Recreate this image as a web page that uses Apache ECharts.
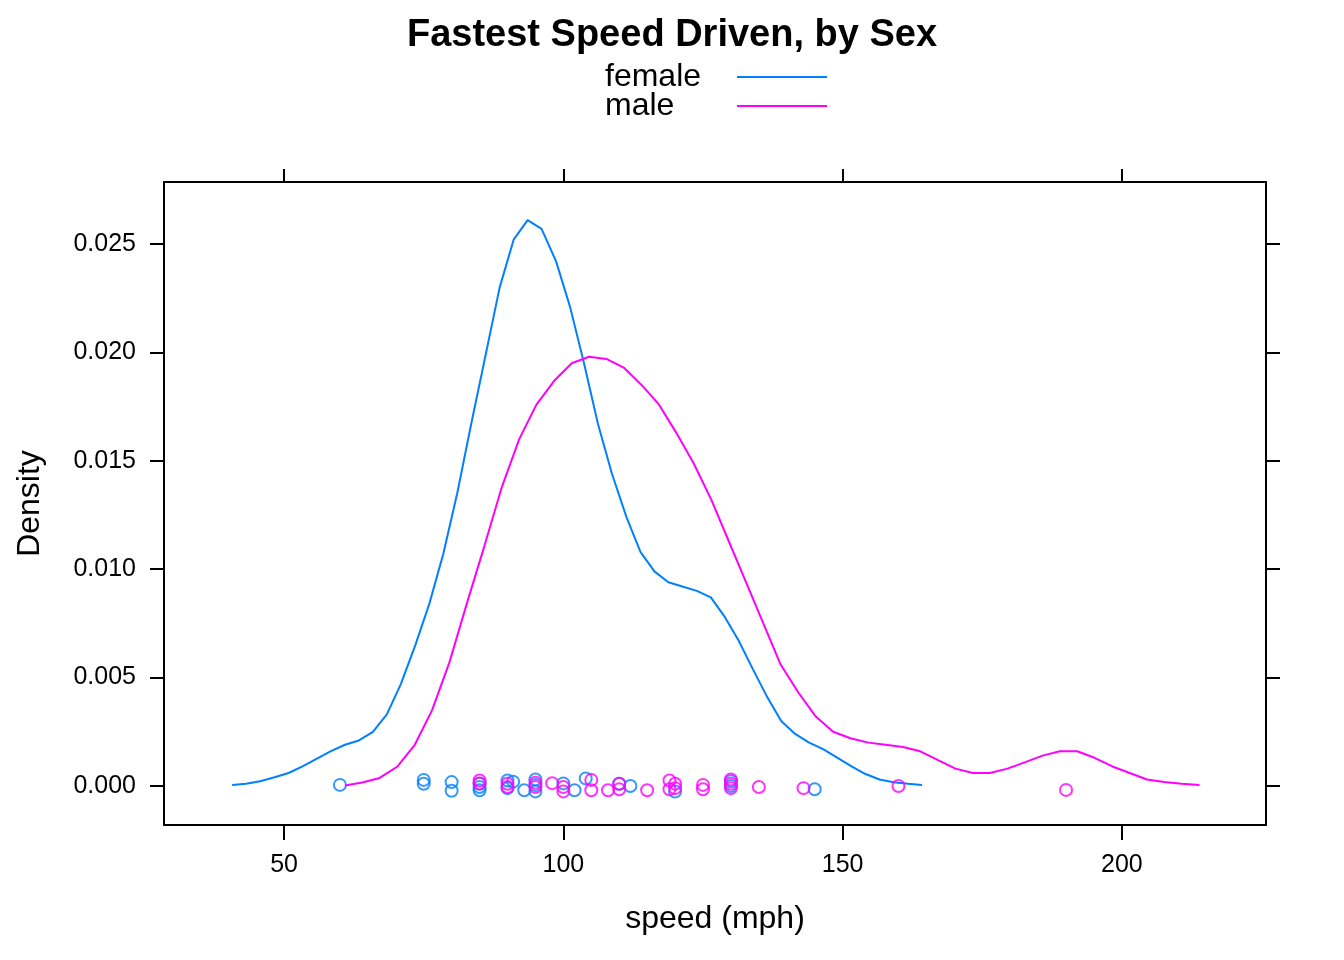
<!DOCTYPE html>
<html>
<head>
<meta charset="utf-8">
<script src="https://cdn.jsdelivr.net/npm/echarts@6/dist/echarts.min.js"></script>
<style>html,body{margin:0;padding:0;background:#fff}#c{width:1344px;height:960px}</style>
</head>
<body>
<div id="c"></div>
<script>
// ---- data ----
const femaleX = [40.7, 43.2, 45.7, 48.3, 50.8, 53.3, 55.8, 58.3, 60.9, 63.4, 65.9, 68.4, 70.9, 73.5, 76.0, 78.5, 81.0, 83.5, 86.1, 88.6, 91.1, 93.6, 96.1, 98.7, 101.2, 103.7, 106.2, 108.7, 111.3, 113.8, 116.3, 118.8, 121.3, 123.9, 126.4, 128.9, 131.4, 133.9, 136.5, 139.0, 141.5, 144.0, 146.5, 149.1, 151.6, 154.1, 156.6, 159.1, 161.7, 164.2];
const femaleY = [0.00005, 0.0001, 0.00022, 0.0004, 0.0006, 0.0009, 0.00125, 0.0016, 0.0019, 0.0021, 0.0025, 0.0033, 0.0047, 0.0065, 0.0084, 0.0107, 0.0135, 0.0167, 0.0199, 0.0230, 0.0252, 0.0261, 0.0257, 0.0242, 0.0221, 0.0195, 0.0167, 0.0144, 0.0124, 0.0108, 0.0099, 0.0094, 0.0092, 0.0090, 0.0087, 0.0078, 0.0067, 0.0054, 0.0041, 0.0030, 0.0024, 0.0020, 0.0017, 0.0013, 0.0009, 0.00055, 0.0003, 0.00017, 0.0001, 0.00005];
const maleX = [60.9, 64.0, 67.1, 70.3, 73.4, 76.5, 79.6, 82.7, 85.9, 89.0, 92.1, 95.2, 98.4, 101.5, 104.6, 107.7, 110.8, 114.0, 117.1, 120.2, 123.3, 126.5, 129.6, 132.7, 135.8, 138.9, 142.1, 145.2, 148.3, 151.4, 154.6, 157.7, 160.8, 163.9, 167.0, 170.2, 173.3, 176.4, 179.5, 182.7, 185.8, 188.9, 192.0, 195.1, 198.3, 201.4, 204.5, 207.6, 210.7, 213.9];
const maleY = [0.00002, 0.00016, 0.00037, 0.0009, 0.0019, 0.0035, 0.0057, 0.0084, 0.0111, 0.0138, 0.0160, 0.0176, 0.0187, 0.0195, 0.0198, 0.0197, 0.0193, 0.0185, 0.0176, 0.0163, 0.0149, 0.0132, 0.0113, 0.0094, 0.0075, 0.0056, 0.0043, 0.0032, 0.0025, 0.0022, 0.0020, 0.0019, 0.0018, 0.0016, 0.0012, 0.0008, 0.0006, 0.0006, 0.0008, 0.0011, 0.0014, 0.0016, 0.0016, 0.0013, 0.0009, 0.0006, 0.0003, 0.00018, 0.0001, 0.00005];
const femaleSpeeds = [60, 75, 75, 80, 80, 85, 85, 85, 90, 90, 91, 93, 95, 95, 95, 100, 102, 104, 110, 112, 120, 130, 130, 145];
const femaleJitter = [0.00005, 0.00028, 0.0001, 0.00018, -0.00022, 0.0001, -0.00005, -0.0002, 0.00025, -0.0001, 0.0002, -0.0002, 0.0003, 0.00005, -0.00025, 0.00012, -0.0002, 0.00035, 0.0001, 0.0, -0.00026, 0.00022, 0.0, -0.00015];
const maleSpeeds = [85, 85, 90, 90, 95, 95, 98, 100, 100, 105, 105, 108, 110, 110, 115, 119, 119, 120, 120, 125, 125, 130, 130, 130, 135, 143, 160, 190];
const maleJitter = [0.00025, 0.00012, 0.0001, -0.00005, 0.00015, -0.00005, 0.00013, -0.00005, -0.00025, 0.00028, -0.0002, -0.0002, 0.0001, -0.00015, -0.0002, 0.00025, -0.00015, 0.0001, -0.0001, 0.00005, -0.00015, 0.0003, 0.0001, -0.0001, -0.00005, -0.0001, 0.0, -0.00018];
const xTicks = [50, 100, 150, 200];
const yTicks = [0, 0.005, 0.010, 0.015, 0.020, 0.025];
const groups = ['female', 'male'];
const colors = ['#0080ff', '#ff00ff'];

const font = 'Liberation Sans, Arial, Helvetica, sans-serif';
const zip = (a, b) => a.map((v, i) => [v, b[i]]);

const axisCommon = {
  type: 'value',
  axisLine: { show: true, onZero: false, lineStyle: { color: '#000', width: 2 } },
  splitLine: { show: false }
};
const xRange = { min: 28.5, max: 225.8 };
const yRange = { min: -0.0018, max: 0.02786 };
const legendTops = [61, 90];

const chart = echarts.init(document.getElementById('c'), null, { renderer: 'canvas' });
chart.setOption({
  backgroundColor: '#fff',
  animation: false,
  title: {
    text: 'Fastest Speed Driven, by Sex',
    left: 'center', top: 12,
    textStyle: { fontFamily: font, fontSize: 38, fontWeight: 'bold', color: '#000' }
  },
  legend: groups.map((g, i) => ({
    data: [{ name: g, icon: 'rect', itemStyle: { color: colors[i] } }],
    orient: 'vertical',
    left: 605, top: legendTops[i],
    padding: 0,
    align: 'right',
    itemWidth: 90, itemHeight: 2,
    selectedMode: false,
    formatter: '{t|{name}}',
    textStyle: {
      fontFamily: font, fontSize: 32, color: '#000',
      rich: { t: { width: 127, align: 'left', fontFamily: font, fontSize: 32, color: '#000' } }
    }
  })),
  grid: { left: 164, right: 78, top: 182, bottom: 135 },
  xAxis: [
    Object.assign({}, axisCommon, xRange, {
      position: 'bottom',
      name: 'speed (mph)', nameLocation: 'middle', nameGap: 78,
      nameTextStyle: { fontFamily: font, fontSize: 32, color: '#000' },
      axisTick: { show: true, length: 15, customValues: xTicks, lineStyle: { color: '#000', width: 2 } },
      axisLabel: { show: true, customValues: xTicks, margin: 28, fontFamily: font, fontSize: 25, color: '#000' }
    }),
    Object.assign({}, axisCommon, xRange, {
      position: 'top',
      axisTick: { show: true, length: 13, customValues: xTicks, lineStyle: { color: '#000', width: 2 } },
      axisLabel: { show: false }
    })
  ],
  yAxis: [
    Object.assign({}, axisCommon, yRange, {
      position: 'left',
      name: 'Density', nameLocation: 'middle', nameGap: 118, nameRotate: 90,
      nameTextStyle: { fontFamily: font, fontSize: 32, color: '#000' },
      axisTick: { show: true, length: 14, customValues: yTicks, lineStyle: { color: '#000', width: 2 } },
      axisLabel: { show: true, customValues: yTicks, margin: 28, fontFamily: font, fontSize: 25, color: '#000',
        formatter: v => v.toFixed(3) }
    }),
    Object.assign({}, axisCommon, yRange, {
      position: 'right',
      axisTick: { show: true, length: 14, customValues: yTicks, lineStyle: { color: '#000', width: 2 } },
      axisLabel: { show: false }
    })
  ],
  series: [
    { name: 'female', type: 'line', data: zip(femaleX, femaleY), symbol: 'none', smooth: false,
      lineStyle: { color: colors[0], width: 2 }, itemStyle: { color: colors[0] }, z: 2 },
    { name: 'female points', type: 'scatter', data: zip(femaleSpeeds, femaleJitter), symbol: 'circle', symbolSize: 12,
      itemStyle: { color: 'transparent', borderColor: colors[0], borderWidth: 2 }, z: 3 },
    { name: 'male', type: 'line', data: zip(maleX, maleY), symbol: 'none', smooth: false,
      lineStyle: { color: colors[1], width: 2 }, itemStyle: { color: colors[1] }, z: 4 },
    { name: 'male points', type: 'scatter', data: zip(maleSpeeds, maleJitter), symbol: 'circle', symbolSize: 12,
      itemStyle: { color: 'transparent', borderColor: colors[1], borderWidth: 2 }, z: 5 }
  ]
});
</script>
</body>
</html>
